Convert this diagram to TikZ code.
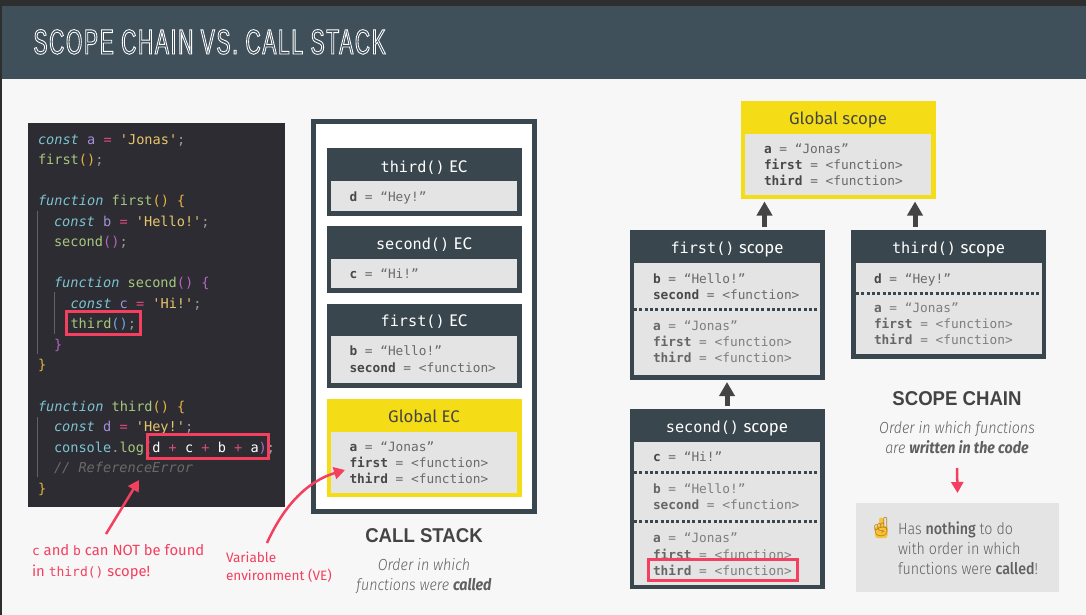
\documentclass[tikz,border=0pt]{standalone}
\usepackage{fontspec}
\usetikzlibrary{arrows.meta}
\setmainfont{Liberation Sans}
\setmonofont{DejaVu Sans Mono}
\newfontfamily\lightfont[FakeStretch=0.89,ItalicFont={Fira Sans Light Italic},BoldFont={Fira Sans Medium},BoldItalicFont={Fira Sans Bold Italic}]{Fira Sans Light}
\newfontfamily\medfont{Fira Sans}
\newfontfamily\headfont[FakeStretch=0.93]{Liberation Sans Bold}
\newfontfamily\titlefont[FakeStretch=0.6,LetterSpace=4.8]{Liberation Sans}
\newfontfamily\emojifont{Noto Emoji}
\definecolor{slate}{HTML}{3A464E}
\definecolor{headbar}{HTML}{40505A}
\definecolor{page}{HTML}{F7F7F7}
\definecolor{panel}{HTML}{E4E4E4}
\definecolor{codebg}{HTML}{2D2C33}
\definecolor{hot}{HTML}{F43F5E}
\definecolor{gold}{HTML}{F4DC16}
\definecolor{ink}{HTML}{444444}
\definecolor{keyc}{HTML}{484848}
\definecolor{valc}{HTML}{6A6A6A}
\definecolor{keyl}{HTML}{666666}
\definecolor{vall}{HTML}{7E7E7E}
\definecolor{cKw}{HTML}{7CC4D0}
\definecolor{cVar}{HTML}{A48FD8}
\definecolor{cOp}{HTML}{DB4C7C}
\definecolor{cStr}{HTML}{E8C56B}
\definecolor{cFn}{HTML}{A8C77E}
\definecolor{cPar}{HTML}{E5B53E}
\definecolor{cPur}{HTML}{B565C0}
\definecolor{cBlu}{HTML}{6FA8DC}
\definecolor{cPun}{HTML}{9A9A9A}
\definecolor{cCom}{HTML}{6A6A6A}
\definecolor{handfill}{HTML}{F6C33C}
\definecolor{handline}{HTML}{B87C14}
\newcommand\kw[1]{\textcolor{cKw}{\itshape #1}}
\newcommand\vr[1]{\textcolor{cVar}{#1}}
\newcommand\oq{\textcolor{cOp}{=}}
\newcommand\st[1]{\textcolor{cStr}{#1}}
\newcommand\fn[1]{\textcolor{cFn}{#1}}
\newcommand\pu[1]{\textcolor{cPun}{#1}}
\newcommand\pa[1]{\textcolor{cPar}{#1}}
\newcommand\pp[1]{\textcolor{cPur}{#1}}
\newcommand\pb[1]{\textcolor{cBlu}{#1}}
\newcommand\kv[2]{\textcolor{keyc}{\textbf{#1}} = #2}
\newcommand\kl[2]{\textcolor{vall}{\textcolor{keyl}{\textbf{#1}} = #2}}
\tikzset{
  x=1pt,y=-1pt,
  every node/.style={inner sep=0pt,outer sep=0pt},
  frame/.style={anchor=north west,fill=slate},
  yellowbox/.style={anchor=north west,fill=gold},
  innerbox/.style={anchor=north west,fill=panel,minimum width=186pt},
  codeline/.style={anchor=base west,text=white,font=\fontsize{13.6}{16}\selectfont\ttfamily},
  bodyline/.style={anchor=base west,text=valc,font=\fontsize{12.8}{15}\selectfont\ttfamily},
  boxtitle/.style={anchor=base,text=white,font=\fontsize{16.8}{20}\selectfont\medfont},
  yellowtitle/.style={anchor=base,text=ink,font=\fontsize{16.8}{20}\selectfont\medfont},
  bigtitle/.style={anchor=base,text=ink,font=\fontsize{20}{24}\selectfont\headfont},
  caption/.style={anchor=base,text=ink!85,font=\fontsize{16}{20}\selectfont\lightfont\itshape},
  notetext/.style={anchor=base west,text=ink!85,font=\fontsize{16}{20}\selectfont\lightfont},
  redlabel/.style={anchor=base west,text=hot,font=\fontsize{14.8}{17}\selectfont\medfont},
  redbox/.style={draw=hot,line width=3pt},
  dotline/.style={draw=slate,line width=3pt,dash pattern=on 3pt off 2.3pt},
  blockup/.style={draw=ink,line width=5pt,-{Triangle[length=14pt,width=15pt]}},
  hotarrow/.style={draw=hot,line width=2.5pt,-{Triangle[length=11pt,width=12pt]}},
  guide/.style={draw=white!25!codebg,line width=.7pt},
}
\newcommand\ttlt[1]{{\fontsize{15.2}{20}\selectfont\ttfamily #1}}
\begin{document}
\begin{tikzpicture}
\useasboundingbox (0,0) rectangle (1086,615);
\fill[page] (0,0) rectangle (1086,615);
\fill[black!82] (0,0) rectangle (1086,6);
\fill[black!82] (0,0) rectangle (2,615);
\node[anchor=north west,fill=headbar,minimum width=1084pt,minimum height=73pt] (header) at (2,6) {};
\node[anchor=base west,text=white,font=\fontsize{35}{40}\selectfont\titlefont] (title) at (33.5,54)
  {\special{pdf:code q 1 Tr 0.85 w 1 1 1 RG}SCOPE CHAIN VS. CALL STACK\special{pdf:code Q}};

% code panel
\node[anchor=north west,fill=codebg,minimum width=257pt,minimum height=384pt] (code) at (28,123) {};
\draw[guide] (37.5,211) -- (37.5,354);
\draw[guide] (54,292) -- (54,334);
\draw[guide] (37.5,417) -- (37.5,477);
\node[codeline] (c1) at (38,144) {\kw{const} \vr{a} \oq{} \st{'Jonas'}\pu{;}};
\node[codeline] (c2) at (38,164.5) {\fn{first}\pa{()}\pu{;}};
\node[codeline] (c3) at (38,205) {\kw{function} \fn{first}\pa{() \{}};
\node[codeline] (c4) at (54,226) {\kw{const} \vr{b} \oq{} \st{'Hello!'}\pu{;}};
\node[codeline] (c5) at (54,246) {\fn{second}\pp{()}\pu{;}};
\node[codeline] (c6) at (54,287) {\kw{function} \fn{second}\pp{() \{}};
\node[codeline] (c7) at (70.5,308) {\kw{const} \vr{c} \oq{} \st{'Hi!'}\pu{;}};
\node[codeline] (c8) at (70.5,328) {\fn{third}\pb{()}\pu{;}};
\node[codeline] (c9) at (54,349) {\pp{\}}};
\node[codeline] (c10) at (38,369) {\pa{\}}};
\node[codeline] (c11) at (38,411) {\kw{function} \fn{third}\pa{() \{}};
\node[codeline] (c12) at (54,431) {\kw{const} \vr{d} \oq{} \st{'Hey!'}\pu{;}};
\node[codeline] (c13) at (54,452) {\textcolor{cKw}{console}\pu{.}\fn{log}\pp{(}d \textcolor{cOp}{+} c \textcolor{cOp}{+} b \textcolor{cOp}{+} a\pp{)}\pu{;}};
\node[codeline,text=cCom] (c14) at (54,472.5) {\itshape // ReferenceError};
\node[codeline] (c15) at (38,493) {\pa{\}}};
\node[redbox,anchor=north west,minimum width=74pt,minimum height=23pt] (rb1) at (66,311.5) {};
\node[redbox,anchor=north west,minimum width=121pt,minimum height=24pt] (rb2) at (147.5,434.5) {};

% call stack
\node[anchor=north west,draw=slate,line width=5pt,fill=white,minimum width=221pt,minimum height=389.5pt] (stack) at (313.5,122) {};
\node[frame,minimum width=195pt,minimum height=67.5pt] (ec3) at (326.5,148) {};
\node[innerbox,minimum height=30pt] (ec3i) at (331,181) {};
\node[boxtitle] (ec3t) at (424,172.5) {\ttlt{third()} EC};
\node[bodyline] (ec3a) at (349.5,201.5) {\kv{d}{“Hey!”}};
\node[frame,minimum width=195pt,minimum height=67pt] (ec2) at (326.5,226) {};
\node[innerbox,minimum height=29pt] (ec2i) at (331,259) {};
\node[boxtitle] (ec2t) at (424,249.5) {\ttlt{second()} EC};
\node[bodyline] (ec2a) at (349.5,278.5) {\kv{c}{“Hi!”}};
\node[frame,minimum width=195pt,minimum height=84.5pt] (ec1) at (326.5,303.5) {};
\node[innerbox,minimum height=47pt] (ec1i) at (331,336) {};
\node[boxtitle] (ec1t) at (424,326.5) {\ttlt{first()} EC};
\node[bodyline] (ec1a) at (349.5,355.5) {\kv{b}{“Hello!”}};
\node[bodyline] (ec1b) at (349.5,372.5) {\kv{second}{<function>}};
\node[yellowbox,minimum width=195pt,minimum height=98pt] (ecg) at (326.5,399) {};
\node[innerbox,minimum height=61pt] (ecgi) at (331,432) {};
\node[yellowtitle] (ecgt) at (424,422) {Global EC};
\node[bodyline] (ecga) at (349.5,451.5) {\kv{a}{“Jonas”}};
\node[bodyline] (ecgb) at (349.5,467.5) {\kv{first}{<function>}};
\node[bodyline] (ecgc) at (349.5,483.5) {\kv{third}{<function>}};
\node[bigtitle] (cst) at (424,542) {CALL STACK};
\node[caption] (cs1) at (424,570.5) {Order in which};
\node[caption] (cs2) at (424,590.5) {functions were \textbf{\textit{called}}};

% annotations
\node[redlabel] (l1) at (32,555) {{\ttfamily\fontsize{13}{16}\selectfont c} and {\ttfamily\fontsize{13}{16}\selectfont b} can NOT be found};
\node[redlabel] (l2) at (32,576) {in {\ttfamily\fontsize{13}{16}\selectfont third()} scope!};
\node[redlabel,font=\fontsize{13.6}{15}\selectfont\medfont] (l3) at (226,562.5) {Variable};
\node[redlabel,font=\fontsize{13.6}{15}\selectfont\medfont] (l4) at (226,580.5) {environment (VE)};
\coordinate (a1s) at (106,534);
\coordinate (a1e) at (139,480);
\coordinate (a2s) at (267,543);
\coordinate (a2e) at (345,470);
\draw[hotarrow] (a1s) -- (a1e);
\draw[hotarrow] (a2s) .. controls (284,505) and (308,481) .. (a2e);

% scope chain
\node[yellowbox,minimum width=195pt,minimum height=98pt] (gs) at (740.5,101) {};
\node[innerbox,minimum height=61pt] (gsi) at (745,134) {};
\node[yellowtitle] (gst) at (838,124.5) {Global scope};
\node[bodyline] (gsa) at (764,153.5) {\kv{a}{“Jonas”}};
\node[bodyline] (gsb) at (764,169.5) {\kv{first}{<function>}};
\node[bodyline] (gsc) at (764,185.5) {\kv{third}{<function>}};

\node[frame,minimum width=195pt,minimum height=149.5pt] (fs) at (629.5,230) {};
\node[innerbox,minimum height=111.5pt] (fsi) at (634,263) {};
\node[boxtitle] (fst) at (727,253.5) {\ttlt{first()} scope};
\node[bodyline] (fsa) at (653,283.5) {\kv{b}{“Hello!”}};
\node[bodyline] (fsb) at (653,299.5) {\kv{second}{<function>}};
\draw[dotline] (fsi.west |- 0,309) -- (fsi.east |- 0,309);
\node[bodyline] (fsc) at (653,330.5) {\kl{a}{“Jonas”}};
\node[bodyline] (fsd) at (653,346.5) {\kl{first}{<function>}};
\node[bodyline] (fse) at (653,362.5) {\kl{third}{<function>}};

\node[frame,minimum width=195pt,minimum height=129pt] (ts) at (851,230) {};
\node[innerbox,minimum height=91pt] (tsi) at (856,263) {};
\node[boxtitle] (tst) at (948.5,253.5) {\ttlt{third()} scope};
\node[bodyline] (tsa) at (874,283.5) {\kv{d}{“Hey!”}};
\draw[dotline] (tsi.west |- 0,293) -- (tsi.east |- 0,293);
\node[bodyline] (tsb) at (874,312.5) {\kl{a}{“Jonas”}};
\node[bodyline] (tsc) at (874,328.5) {\kl{first}{<function>}};
\node[bodyline] (tsd) at (874,344.5) {\kl{third}{<function>}};

\node[frame,minimum width=195pt,minimum height=180pt] (ss) at (629.5,409) {};
\node[innerbox,minimum height=143pt] (ssi) at (634,442) {};
\node[boxtitle] (sst) at (727,432.5) {\ttlt{second()} scope};
\node[bodyline] (ssa) at (653,461.5) {\kv{c}{“Hi!”}};
\draw[dotline] (ssi.west |- 0,472) -- (ssi.east |- 0,472);
\node[bodyline] (ssb) at (653,493.5) {\kl{b}{“Hello!”}};
\node[bodyline] (ssc) at (653,509.5) {\kl{second}{<function>}};
\draw[dotline] (ssi.west |- 0,521) -- (ssi.east |- 0,521);
\node[bodyline] (ssd) at (653,542.5) {\kl{a}{“Jonas”}};
\node[bodyline] (sse) at (653,559) {\kl{first}{<function>}};
\node[bodyline] (ssf) at (653,575.5) {\kl{third}{<function>}};
\node[redbox,anchor=north west,minimum width=149pt,minimum height=21pt] (rb3) at (648.5,559.5) {};

\draw[blockup] ([xshift=135pt,yshift=3.5pt]fs.north west) -- ([xshift=24pt,yshift=-2.5pt]gs.south west);
\draw[blockup] ([xshift=64pt,yshift=3.5pt]ts.north west) -- ([xshift=174.5pt,yshift=-2.5pt]gs.south west);
\draw[blockup] ([yshift=3.5pt]ss.north) -- ([yshift=-2.5pt]fs.south);

\node[bigtitle] (sct) at (957,405) {SCOPE CHAIN};
\node[caption] (sc1) at (957,433.5) {Order in which functions};
\node[caption] (sc2) at (957,453.5) {are \textbf{\textit{written in the code}}};
\node[anchor=north west,fill=panel,minimum width=203pt,minimum height=89pt] (note) at (856,503) {};
\draw[hotarrow] (sc2.south |- 0,468) -- ([yshift=10pt]note.north |- 0,503);
\fill[handfill,rounded corners=2.5pt] (875,526) rectangle (887.5,538);
\fill[handfill,rounded corners=2pt] (879,517.5) rectangle (883.5,528);
\node[anchor=center,text=handline,font=\fontsize{19}{22}\selectfont\emojifont] (hand) at (881,527) {☝};
\node[notetext] (n1) at (898,534.5) {Has \textbf{nothing} to do};
\node[notetext] (n2) at (898,554.5) {with order in which};
\node[notetext] (n3) at (898,574) {functions were \textbf{called}!};
\end{tikzpicture}
\end{document}
